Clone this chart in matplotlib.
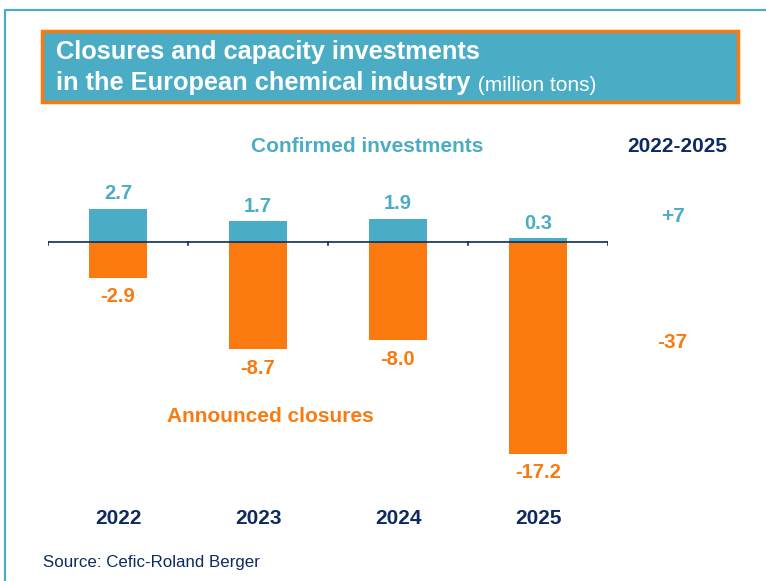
import matplotlib
matplotlib.use("Agg")
import matplotlib.pyplot as plt
from matplotlib.patches import Rectangle
from matplotlib.lines import Line2D

plt.rcParams['font.family'] = ['Liberation Sans', 'DejaVu Sans']

years = ["2022", "2023", "2024", "2025"]
investments = [2.7, 1.7, 1.9, 0.3]
closures = [-2.9, -8.7, -8.0, -17.2]
total_inv = "+7"
total_clo = "-37"

TEAL = "#4BACC6"
ORANGE = "#FA7A10"
NAVY = "#0D2A62"

W, H = 766, 581
fig = plt.figure(figsize=(W / 100, H / 100), dpi=100)


def fx(x):
    return x / W


def fy(y):
    return 1 - y / H


# outer frame line
fig.add_artist(Line2D([fx(5), fx(5), fx(W + 5)], [fy(H + 5), fy(10), fy(10)],
                      color=TEAL, lw=1.6, transform=fig.transFigure))

# title box
fig.add_artist(Rectangle((fx(42), fy(102)), fx(738) - fx(42), fy(31) - fy(102),
                         facecolor=TEAL, edgecolor=ORANGE, lw=2.5,
                         transform=fig.transFigure))
fig.text(fx(56), fy(52), "Closures and capacity investments", color="white",
         fontsize=18.3, fontweight="bold", va="center", ha="left")
t2 = fig.text(fx(56), fy(90), "in the European chemical industry", color="white",
              fontsize=18.3, fontweight="bold", va="baseline", ha="left")
fig.add_artist(plt.Annotation(" (million tons)", xy=(1, 0), xycoords=t2,
                              xytext=(1, 0), textcoords="offset points",
                              color="white", fontsize=15, va="bottom", ha="left"))

# axes
base_y = 242
scale = 12.3
ax_top, ax_bot = 160, 480
ax_left, ax_right = 48, 608
ax = fig.add_axes([fx(ax_left), fy(ax_bot), fx(ax_right) - fx(ax_left), fy(ax_top) - fy(ax_bot)])
ax.set_xlim(-0.5, 3.5)
ax.set_ylim(-(ax_bot - base_y) / scale, (base_y - ax_top) / scale)
ax.axis("off")

x = list(range(len(years)))
ax.bar(x, investments, width=0.41, color=TEAL, zorder=2)
ax.bar(x, closures, width=0.41, color=ORANGE, zorder=2)
ax.axhline(0, color=NAVY, lw=1.2, zorder=3)
for xt in [-0.5, 0.5, 1.5, 2.5, 3.5]:
    ax.plot([xt, xt], [0, -0.25], color=NAVY, lw=1.2, zorder=3)

for xi, v in zip(x, investments):
    ax.annotate(f"{v:.1f}", xy=(xi, v), xytext=(0, 4), textcoords="offset points",
                ha="center", va="bottom", color=TEAL, fontsize=14.5, fontweight="bold")
for xi, v in zip(x, closures):
    ax.annotate(f"{v:.1f}", xy=(xi, v), xytext=(0, -7), textcoords="offset points",
                ha="center", va="top", color=ORANGE, fontsize=14.5, fontweight="bold")

for xi, yr in zip(x, years):
    ax.text(xi, -(518 - base_y) / scale, yr, ha="center", va="center",
            color=NAVY, fontsize=15, fontweight="bold")

fig.text(fx(367), fy(146), "Confirmed investments", ha="center", va="center",
         color=TEAL, fontsize=15, fontweight="bold")
fig.text(fx(270), fy(417), "Announced closures", ha="center", va="center",
         color=ORANGE, fontsize=15, fontweight="bold")
fig.text(fx(677), fy(146), "2022-2025", ha="center", va="center",
         color=NAVY, fontsize=15, fontweight="bold")
fig.text(fx(673), fy(217), total_inv, ha="center", va="center",
         color=TEAL, fontsize=15, fontweight="bold")
fig.text(fx(672), fy(343), total_clo, ha="center", va="center",
         color=ORANGE, fontsize=15, fontweight="bold")
fig.text(fx(43), fy(563), "Source: Cefic-Roland Berger", ha="left", va="center",
         color=NAVY, fontsize=12.2)

fig.savefig("out.png", dpi=100)
